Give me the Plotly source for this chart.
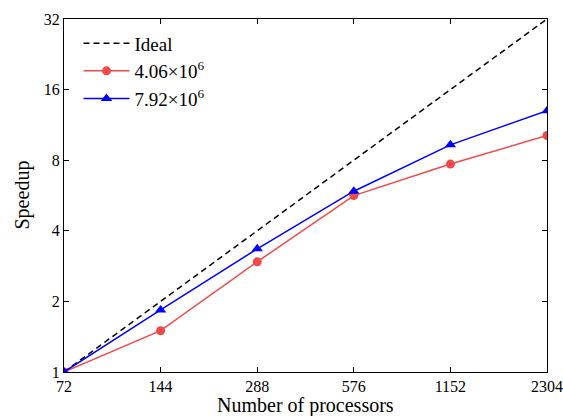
import plotly.graph_objects as go
import math

processors = [72, 144, 288, 576, 1152, 2304]
ideal = [1, 2, 4, 8, 16, 32]
speedup_406 = [1.0, 1.5, 2.95, 5.65, 7.7, 10.2]
speedup_792 = [1.0, 1.84, 3.35, 5.9, 9.3, 13.0]
x_ticks = [72, 144, 288, 576, 1152, 2304]
y_ticks = [1, 2, 4, 8, 16, 32]

font = "Liberation Serif, Times New Roman, serif"

fig = go.Figure()
fig.add_trace(go.Scatter(x=processors, y=ideal, mode="lines", name="Ideal",
                         line=dict(color="black", width=1.5, dash="6px,4px")))
fig.add_trace(go.Scatter(x=processors, y=speedup_406, mode="lines+markers",
                         name="4.06×10<sup>6</sup>",
                         line=dict(color="#f24848", width=1.5),
                         marker=dict(symbol="circle", size=9, color="#f24848")))
fig.add_trace(go.Scatter(x=processors, y=speedup_792, mode="lines+markers",
                         name="7.92×10<sup>6</sup>",
                         line=dict(color="#0000ff", width=1.5),
                         marker=dict(symbol="triangle-up", size=10, color="#0000ff")))

axis_common = dict(showline=True, linecolor="black", linewidth=1, mirror="ticks",
                   ticks="inside", ticklen=5, tickcolor="black", showgrid=False,
                   zeroline=False, automargin=False,
                   tickfont=dict(family=font, size=16, color="black"))

fig.update_xaxes(type="log", range=[math.log10(72), math.log10(2304)],
                 tickvals=x_ticks, ticktext=[str(v) for v in x_ticks],
                 **axis_common)
fig.update_yaxes(type="log", range=[0, math.log10(32)],
                 tickvals=y_ticks, ticktext=[str(v) for v in y_ticks],
                 **axis_common)

fig.add_annotation(text="Number of processors", xref="paper", yref="paper",
                   x=0.5, y=0, xanchor="center", yanchor="middle", yshift=-33,
                   showarrow=False, font=dict(family=font, size=20, color="black"))
fig.add_annotation(text="Speedup", xref="paper", yref="paper",
                   x=0, y=0.5, xanchor="center", yanchor="middle", xshift=-42,
                   textangle=-90,
                   showarrow=False, font=dict(family=font, size=20, color="black"))

fig.update_layout(width=563, height=416,
                  margin=dict(l=64, r=16, t=19, b=44),
                  plot_bgcolor="white", paper_bgcolor="white",
                  showlegend=True,
                  legend=dict(x=0.03, y=0.985, xanchor="left", yanchor="top",
                              bgcolor="rgba(0,0,0,0)", itemwidth=46,
                              font=dict(family=font, size=19, color="black")))

fig.write_html("out.html")
